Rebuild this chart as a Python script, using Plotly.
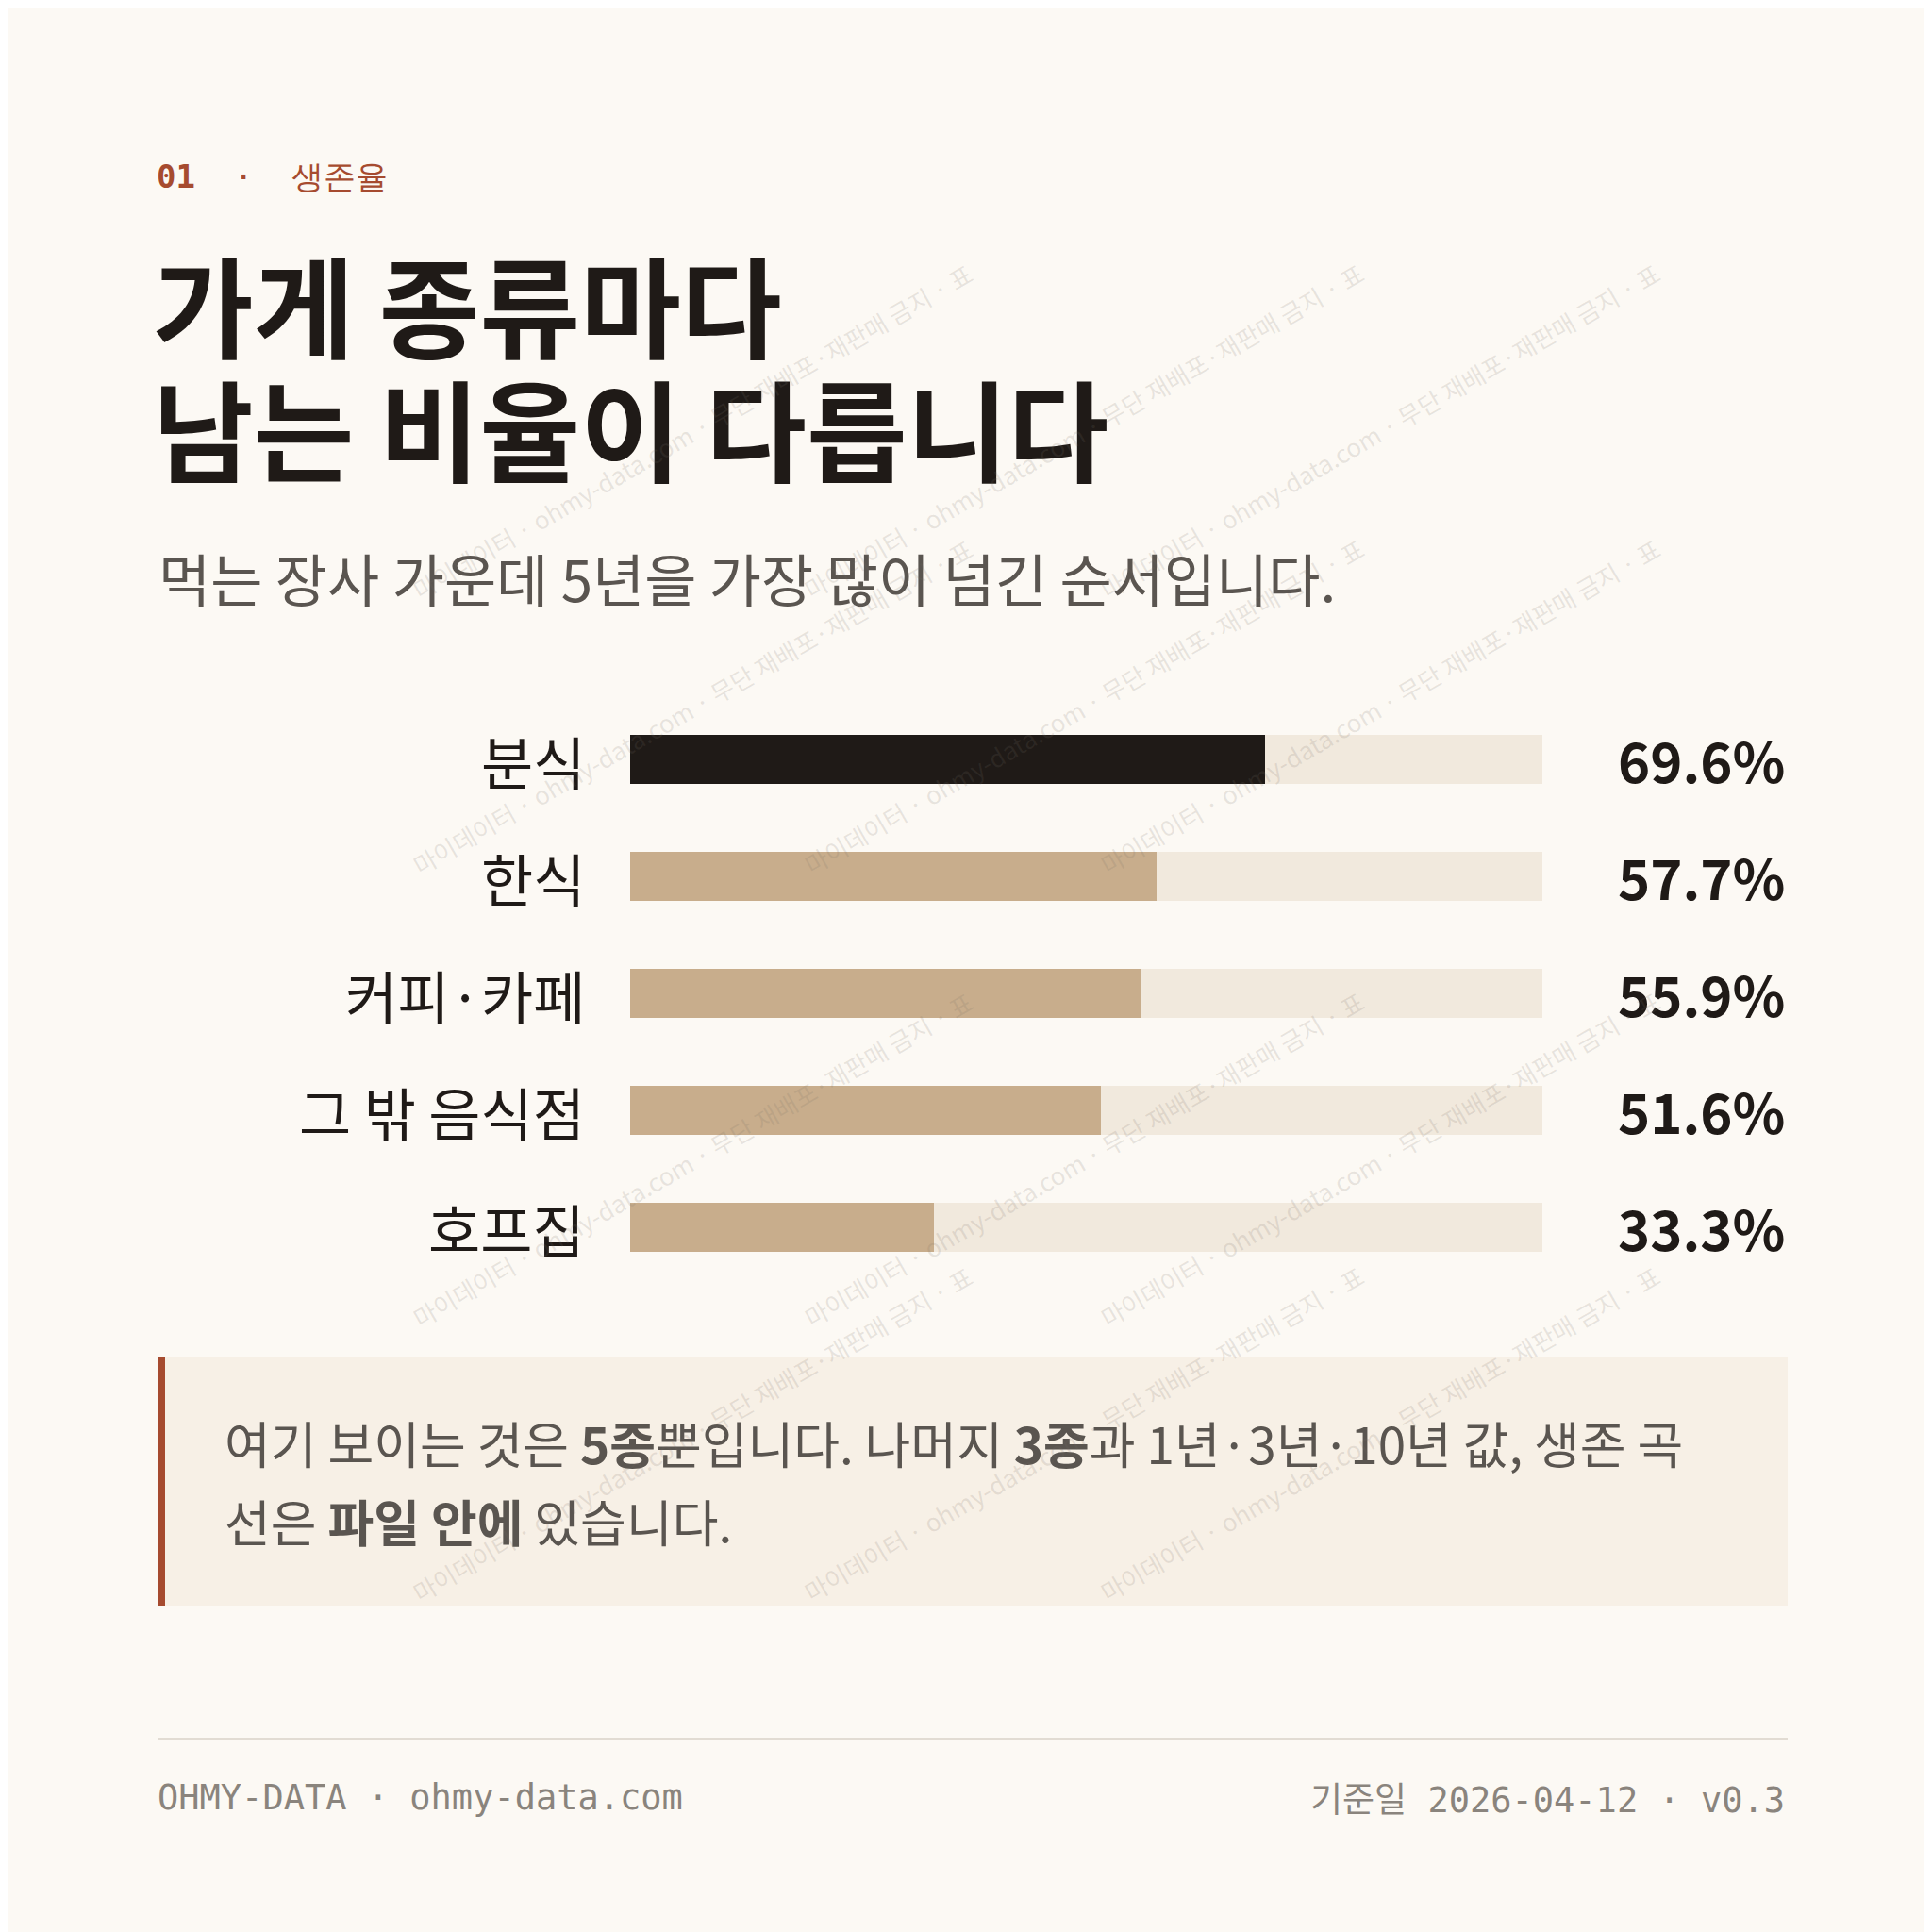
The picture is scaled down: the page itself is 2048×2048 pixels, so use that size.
import plotly.graph_objects as go

categories = ["분식", "한식", "커피·카페", "그 밖 음식점", "호프집"]
values = [69.6, 57.7, 55.9, 51.6, 33.3]
value_labels = ["69.6%", "57.7%", "55.9%", "51.6%", "33.3%"]

W = 2048
KR = "Noto Sans CJK KR"
MONO = "DejaVu Sans Mono"
ys = list(range(len(categories)))
colors = ["#1F1A17"] + ["#C8AD8C"] * (len(categories) - 1)

fig = go.Figure()
fig.add_trace(go.Bar(x=[100] * len(categories), y=ys, orientation="h", width=0.42,
                     marker=dict(color="#F1E9DD", line=dict(width=0)), hoverinfo="skip"))
fig.add_trace(go.Bar(x=values, y=ys, orientation="h", width=0.42,
                     marker=dict(color=colors, line=dict(width=0))))

def px(v):
    return v / W

def py(v):
    return 1 - v / W

ann = []
for i, c in enumerate(categories):
    ann.append(dict(x=px(614), y=i, xref="paper", yref="y", text=c, showarrow=False,
                    xanchor="right", yanchor="middle", font=dict(family=KR, size=60, color="#1F1A17")))
    ann.append(dict(x=px(1886), y=i, xref="paper", yref="y", text="<b>" + value_labels[i] + "</b>",
                    showarrow=False, xanchor="right", yanchor="middle",
                    font=dict(family=KR, size=58, color="#1F1A17")))

def t(x, y, text, size, color, family=KR, xa="left"):
    ann.append(dict(x=px(x), y=py(y), xref="paper", yref="paper", text=text, showarrow=False,
                    xanchor=xa, yanchor="middle", font=dict(family=family, size=size, color=color)))

t(156, 179, "<b>01</b>  ·  생존율", 34, "#A64B2F", family=MONO)
t(152, 312, "<b>가게 종류마다</b>", 116, "#1F1A17")
t(152, 443, "<b>남는 비율이 다릅니다</b>", 116, "#1F1A17")
t(158, 603, "먹는 장사 가운데 5년을 가장 많이 넘긴 순서입니다.", 60, "#5A5550")
t(228, 1521, "여기 보이는 것은 <b>5종</b>뿐입니다. 나머지 <b>3종</b>과 1년·3년·10년 값, 생존 곡", 53, "#5A5550")
t(228, 1604, "선은 <b>파일 안에</b> 있습니다.", 53, "#5A5550")
t(157, 1897, "OHMY-DATA · ohmy-data.com", 37, "#8A847D", family=MONO)
t(1886, 1897, "<span style='font-family:Noto Sans CJK KR'>기준일</span> 2026-04-12 · v0.3", 37, "#8A847D", family=MONO, xa="right")

wm = "마이데이터 · ohmy-data.com · 무단 재배포·재판매 금지 · 표"
for gx in [420, 1140, 1760]:
    for gy in range(260, 2000, 480):
        ann.append(dict(x=px(gx), y=py(gy), xref="paper", yref="paper", text=wm, showarrow=False,
                        textangle=-30, font=dict(family=KR, size=26, color="rgba(120,110,100,0.16)")))

shapes = [
    dict(type="rect", xref="paper", yref="paper", x0=px(159), x1=px(1887), y0=py(1694), y1=py(1430),
         fillcolor="#F7F0E6", line=dict(width=0), layer="below"),
    dict(type="rect", xref="paper", yref="paper", x0=px(159), x1=px(167), y0=py(1694), y1=py(1430),
         fillcolor="#A64B2F", line=dict(width=0), layer="below"),
    dict(type="line", xref="paper", yref="paper", x0=px(159), x1=px(1887), y0=py(1835), y1=py(1835),
         line=dict(color="#E2DCD3", width=2)),
]

fig.update_layout(
    width=W, height=W, margin=dict(l=0, r=0, t=0, b=0),
    paper_bgcolor="#FCF9F4", plot_bgcolor="rgba(0,0,0,0)",
    barmode="overlay", showlegend=False, bargap=0,
    xaxis=dict(domain=[px(660), px(1627)], range=[0, 100], visible=False, fixedrange=True),
    yaxis=dict(domain=[py(1355), py(735)], range=[4.5, -0.5], visible=False, fixedrange=True),
    annotations=ann, shapes=shapes,
)
fig.write_html("out.html")
